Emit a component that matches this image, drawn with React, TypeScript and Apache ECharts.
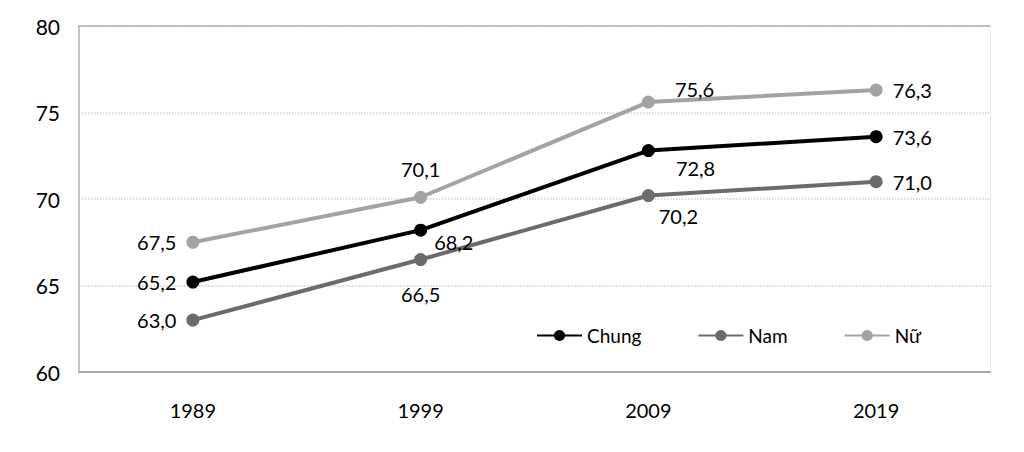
import React, { useEffect, useRef } from "react";
import * as echarts from "echarts";

const years = ["1989", "1999", "2009", "2019"];
const chung = [65.2, 68.2, 72.8, 73.6];
const nam = [63.0, 66.5, 70.2, 71.0];
const nu = [67.5, 70.1, 75.6, 76.3];
const seriesNames = ["Chung", "Nam", "Nữ"];
const yTicks = [60, 65, 70, 75, 80];

const FONT = "Lato, 'Open Sans', sans-serif";

type LabelCfg = { position: string; distance: number; offset?: number[] };

const chungLabels: LabelCfg[] = [
  { position: "left", distance: 10 },
  { position: "right", distance: 7, offset: [0, 12] },
  { position: "right", distance: 21, offset: [0, 17] },
  { position: "right", distance: 10 },
];
const namLabels: LabelCfg[] = [
  { position: "left", distance: 10 },
  { position: "bottom", distance: 18 },
  { position: "bottom", distance: 4, offset: [30, 0] },
  { position: "right", distance: 10 },
];
const nuLabels: LabelCfg[] = [
  { position: "left", distance: 10 },
  { position: "top", distance: 12 },
  { position: "right", distance: 20, offset: [0, -13] },
  { position: "right", distance: 10 },
];

function buildData(values: number[], labels: LabelCfg[]) {
  return values.map((v, i) => ({
    value: v,
    label: {
      show: true,
      position: labels[i].position,
      distance: labels[i].distance,
      offset: labels[i].offset || [0, 0],
    },
  }));
}

function makeSeries(name: string, values: number[], labels: LabelCfg[], color: string, z: number) {
  return {
    name,
    type: "line",
    data: buildData(values, labels),
    symbol: "circle",
    symbolSize: 13,
    z,
    lineStyle: { color, width: 4 },
    itemStyle: { color },
    label: {
      show: true,
      color: "#000",
      fontSize: 20,
      fontFamily: FONT,
      formatter: (p: any) => Number(p.value).toFixed(1).replace(".", ","),
    },
  };
}

export default function App() {
  const ref = useRef<HTMLDivElement>(null);
  useEffect(() => {
    if (!ref.current) return;
    const chart = echarts.init(ref.current, null, { renderer: "svg" });
    chart.setOption({
      animation: false,
      backgroundColor: "#fff",
      grid: { left: 79, right: 34, top: 26, bottom: 80 },
      legend: {
        data: seriesNames,
        left: 531,
        top: 321,
        itemWidth: 45,
        itemHeight: 14,
        itemGap: 56,
        textStyle: { color: "#000", fontSize: 19, fontFamily: FONT },
      },
      xAxis: [
        {
          type: "category",
          data: years,
          boundaryGap: true,
          axisLine: { show: true, lineStyle: { color: "#a8a8a8", width: 2 } },
          axisTick: { show: false },
          axisLabel: { color: "#000", fontSize: 20, fontFamily: FONT, margin: 28 },
        },
        {
          type: "category",
          data: years,
          position: "top",
          axisLine: { show: true, lineStyle: { color: "#b0b0b0", width: 1.5 } },
          axisTick: { show: false },
          axisLabel: { show: false },
        },
      ],
      yAxis: [
        {
          type: "value",
          min: yTicks[0],
          max: yTicks[yTicks.length - 1],
          interval: 5,
          axisLine: { show: true, lineStyle: { color: "#b0b0b0", width: 1.5 } },
          axisTick: { show: false },
          axisLabel: { color: "#000", fontSize: 21, fontFamily: FONT, margin: 19 },
          splitLine: { show: true, lineStyle: { color: "#cfcfcf", type: "dotted", width: 1.5 } },
        },
        {
          type: "value",
          position: "right",
          min: yTicks[0],
          max: yTicks[yTicks.length - 1],
          interval: 5,
          axisLine: { show: true, lineStyle: { color: "#e2e2e2", type: "dotted", width: 1 } },
          axisTick: { show: false },
          axisLabel: { show: false },
          splitLine: { show: false },
        },
      ],
      series: [
        makeSeries(seriesNames[0], chung, chungLabels, "#000000", 5),
        makeSeries(seriesNames[1], nam, namLabels, "#6b6b6b", 4),
        makeSeries(seriesNames[2], nu, nuLabels, "#a3a3a3", 3),
      ],
    });
    return () => chart.dispose();
  }, []);
  return (
    <div
      ref={ref}
      style={{ position: "fixed", left: 0, top: 0, width: 1024, height: 452 }}
    />
  );
}
